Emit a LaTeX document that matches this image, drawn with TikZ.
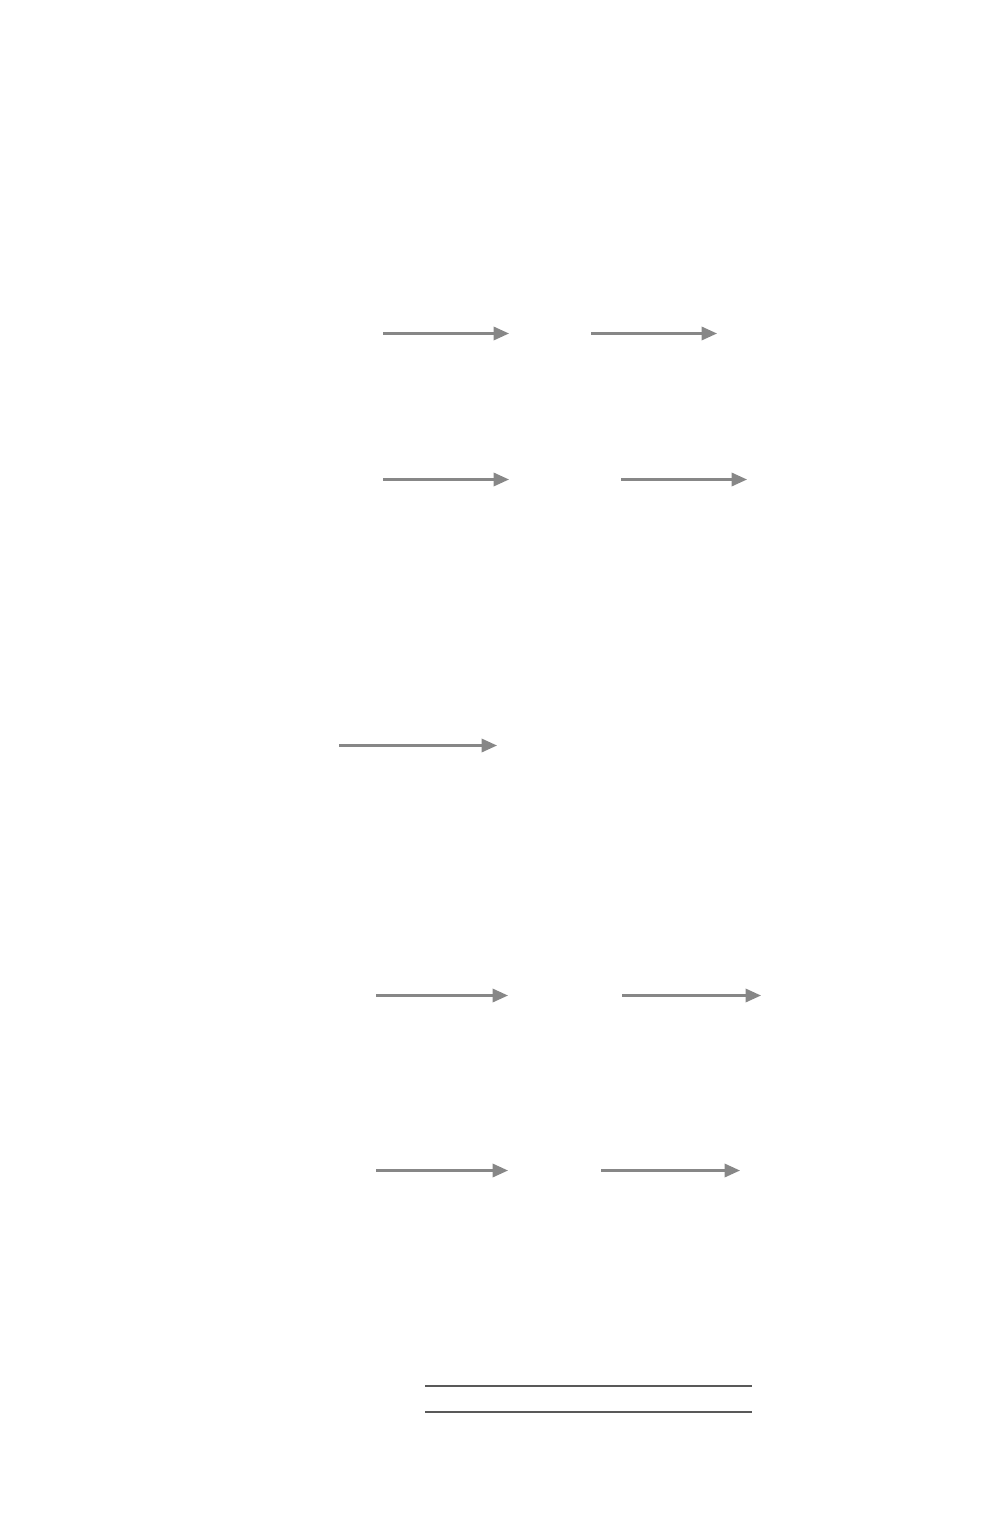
\documentclass[tikz,border=0pt]{standalone}
\usepackage{amsmath}
\usepackage{amssymb}
\usetikzlibrary{arrows.meta}

\begin{document}
\begin{tikzpicture}[x=0.01cm, y=-0.01cm,
    flow/.style={draw=black!47, line width=0.7pt, -{Triangle[length=4.4pt, width=3.8pt]}},
    rule/.style={draw=black!65, line width=0.5pt}]
            \useasboundingbox (0, 0) rectangle (1000, 1528);

            \coordinate (a1) at (383, 333.5);  \coordinate (b1) at (509, 333.5);
            \coordinate (c1) at (591, 333.5);  \coordinate (d1) at (717, 333.5);

            \coordinate (a2) at (383, 479.5);  \coordinate (b2) at (509, 479.5);
            \coordinate (c2) at (621, 479.5);  \coordinate (d2) at (747, 479.5);

            \coordinate (a3) at (339, 745.5);  \coordinate (b3) at (497, 745.5);

            \coordinate (a4) at (376, 995.5);  \coordinate (b4) at (508, 995.5);
            \coordinate (c4) at (622, 995.5);  \coordinate (d4) at (761, 995.5);

            \coordinate (a5) at (376, 1170.5); \coordinate (b5) at (508, 1170.5);
            \coordinate (c5) at (601, 1170.5); \coordinate (d5) at (740, 1170.5);

            \draw[flow] (a1) -- (b1);
            \draw[flow] (c1) -- (d1);
            \draw[flow] (a2) -- (b2);
            \draw[flow] (c2) -- (d2);
            \draw[flow] (a3) -- (b3);
            \draw[flow] (a4) -- (b4);
            \draw[flow] (c4) -- (d4);
            \draw[flow] (a5) -- (b5);
            \draw[flow] (c5) -- (d5);

            \coordinate (top l) at (425, 1386); \coordinate (top r) at (752, 1386);
            \coordinate (bot l) at (425, 1412); \coordinate (bot r) at (752, 1412);
            \draw[rule] (top l) -- (top r);
            \draw[rule] (bot l) -- (bot r);
        \end{tikzpicture}
\end{document}
